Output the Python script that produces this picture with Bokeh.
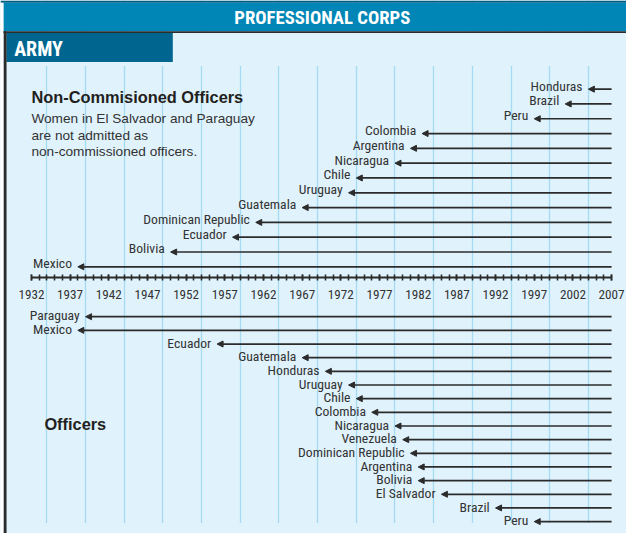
from bokeh.plotting import figure
from bokeh.models import (ColumnDataSource, Range1d, LinearAxis, FixedTicker,
                          Arrow, NormalHead, Grid)
from bokeh.core.properties import value
from bokeh.embed import file_html
from bokeh.resources import INLINE

# ---------------- data ----------------
title_text = "PROFESSIONAL CORPS"
section_text = "ARMY"
nco_title = "Non-Commisioned Officers"
nco_note = ["Women in El Salvador and Paraguay",
            "are not admitted as",
            "non-commissioned officers."]
officers_title = "Officers"

nco_countries = ["Honduras", "Brazil", "Peru", "Colombia", "Argentina",
                 "Nicaragua", "Chile", "Uruguay", "Guatemala",
                 "Dominican Republic", "Ecuador", "Bolivia", "Mexico"]
nco_years = [2004, 2001, 1997, 1982.5, 1981, 1979, 1974, 1973, 1967,
             1961, 1958, 1950, 1938]

off_countries = ["Paraguay", "Mexico", "Ecuador", "Guatemala", "Honduras",
                 "Uruguay", "Chile", "Colombia", "Nicaragua", "Venezuela",
                 "Dominican Republic", "Argentina", "Bolivia", "El Salvador",
                 "Brazil", "Peru"]
off_years = [1939, 1938, 1956, 1967, 1970, 1973, 1974, 1976, 1979, 1980,
             1981, 1982, 1982, 1985, 1992, 1997]

tick_years = list(range(1932, 2008, 5))
minor_years = list(range(1932, 2008))
grid_years = list(range(1934, 2007, 5))
end_year = 2007

# ---------------- style / layout ----------------
BG = "#E0F2FC"
GRID = "#A5DAF3"
BAR = "#0086B6"
NAVY = "#005B80"
ARMY = "#00668F"
DARK = "#2B2B2B"
TXT = "#333333"
COND = "Roboto Condensed"
SANS = "Liberation Sans"

W, H = 626, 533
S = W / 642.0           # scale from reference pixels to figure pixels

PX_PER_YEAR = (626.7 - 31.7) / 75.0
def yr(px):
    return 1932 + (px - 31.7) / PX_PER_YEAR

def fs(px):
    return f"{px * S:.2f}px"

p = figure(width=W, height=H, output_backend="svg", toolbar_location=None,
           x_range=Range1d(yr(0), yr(642)), y_range=Range1d(549, 0),
           x_axis_type=None, y_axis_type=None, min_border=0,
           background_fill_color=BG, border_fill_color=BG,
           outline_line_color=None)

grid = Grid(dimension=0, ticker=FixedTicker(ticks=grid_years),
            grid_line_color=GRID, grid_line_width=1.3)
p.add_layout(grid)

xl, xr = yr(0), yr(642)
# header / cover bands
p.quad(left=[xl], right=[xr], top=[0], bottom=[2.4], fill_color=NAVY, line_color=None)
p.quad(left=[yr(3)], right=[xr], top=[2.4], bottom=[31.7], fill_color=BAR, line_color=None)
p.quad(left=[xl], right=[yr(3)], top=[2.4], bottom=[549], fill_color="white", line_color=None)
p.quad(left=[yr(3)], right=[xr], top=[31.7], bottom=[33.4], fill_color=DARK, line_color=None)
p.quad(left=[yr(6)], right=[xr], top=[33.4], bottom=[67.5], fill_color=BG, line_color=None)
p.quad(left=[yr(6)], right=[xr], top=[538.3], bottom=[549], fill_color=BG, line_color=None)
p.quad(left=[yr(6)], right=[yr(176.7)], top=[33.4], bottom=[63.3], fill_color=ARMY, line_color=None)
p.quad(left=[yr(3.3)], right=[yr(6.2)], top=[31.7], bottom=[549], fill_color=DARK, line_color=None)

p.text(x=[yr(330)], y=[18.3], text=[title_text], text_align="center",
       text_baseline="middle", text_color="white", text_font=value(COND),
       text_font_style="bold", text_font_size=fs(19.2))
p.text(x=[yr(14)], y=[49.7], text=[section_text], text_align="left",
       text_baseline="middle", text_color="white", text_font=value(COND),
       text_font_style="bold", text_font_size=fs(20.5))

p.text(x=[yr(31.7)], y=[99.4], text=[nco_title], text_align="left",
       text_baseline="middle", text_color="#231F20", text_font=value(SANS),
       text_font_style="bold", text_font_size=fs(16.8))
p.text(x=[yr(31.7)] * len(nco_note), y=[121.7 + 17 * i for i in range(len(nco_note))],
       text=nco_note, text_align="left", text_baseline="middle",
       text_color=TXT, text_font=value(SANS), text_font_size=fs(14))
p.text(x=[yr(45)], y=[436.3], text=[officers_title], text_align="left",
       text_baseline="middle", text_color="#231F20", text_font=value(SANS),
       text_font_style="bold", text_font_size=fs(16.8))

def draw_section(names, years, y0, dy, yoff):
    ys = [y0 + dy * i for i in range(len(names))]
    src = ColumnDataSource(dict(x0=[end_year] * len(names), x1=years, y=ys, name=names))
    p.add_layout(Arrow(end=NormalHead(size=6, fill_color=DARK, line_color=DARK, line_width=1),
                       x_start="x0", y_start="y", x_end="x1", y_end="y",
                       source=src, line_color=DARK, line_width=1.7))
    p.text(x="x1", y="y", text="name", source=src, text_align="right",
           text_baseline="middle", x_offset=-6 * S, y_offset=yoff * S,
           text_color=TXT, text_font=value(COND), text_font_size=fs(14))

draw_section(nco_countries, nco_years, 91.3, 15.25, -3.6)
draw_section(off_countries, off_years, 325.7, 14.07, -1.4)

ax = LinearAxis(fixed_location=285.7, bounds=(1932, 2007),
                ticker=FixedTicker(ticks=tick_years, minor_ticks=minor_years))
ax.axis_line_color = DARK
ax.axis_line_width = 2.2
ax.major_tick_line_color = DARK
ax.minor_tick_line_color = DARK
ax.major_tick_line_width = 1.6
ax.minor_tick_line_width = 1.6
ax.major_tick_in = 3
ax.major_tick_out = 3
ax.minor_tick_in = 3
ax.minor_tick_out = 3
ax.major_label_standoff = 9
ax.major_label_text_font = COND
ax.major_label_text_font_size = fs(13.5)
ax.major_label_text_color = TXT
p.add_layout(ax, "below")

open("out.html", "w").write(file_html(p, INLINE))
